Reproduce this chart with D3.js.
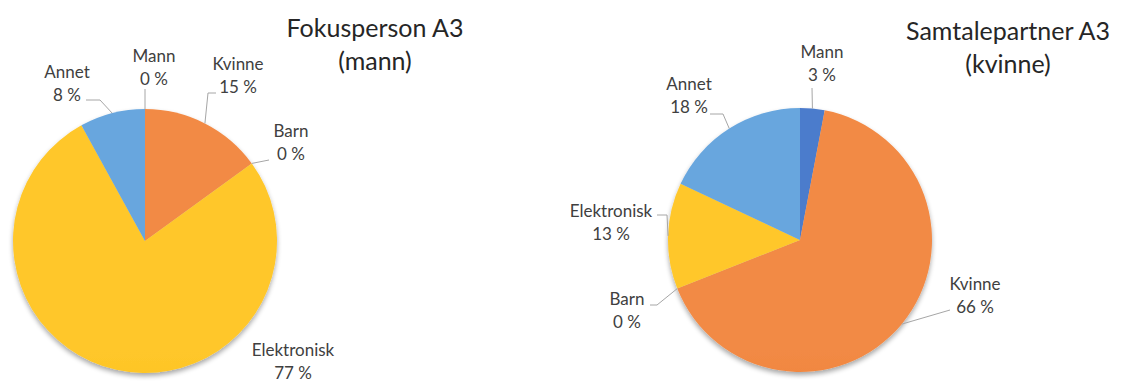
<!DOCTYPE html>
<html>
<head>
<meta charset="utf-8">
<script src="https://cdn.jsdelivr.net/npm/d3@7"></script>
<style>
  html, body { margin: 0; padding: 0; background: #ffffff; }
  svg { display: block; }
  text { font-family: Lato, "Open Sans", sans-serif; }
</style>
</head>
<body>
<svg id="chart" width="1121" height="383"></svg>
<script>
// Categories shared by both pies (clockwise from 12 o'clock)
const categories = ["Mann", "Kvinne", "Barn", "Elektronisk", "Annet"];

// Share of conversation partners, in percent
const fokusValues = [0, 15, 0, 77, 8];
const samtaleValues = [3, 66, 0, 13, 18];

const fokusTitle = ["Fokusperson A3", "(mann)"];
const samtaleTitle = ["Samtalepartner A3", "(kvinne)"];

// Office-style palette: [top tint, bottom shade]
const palette = {
  "Mann":        ["#4C7BCC", "#3A63B2"],
  "Kvinne":      ["#F28A45", "#E76D1B"],
  "Barn":        ["#B5B5B5", "#9A9A9A"],
  "Elektronisk": ["#FFC72A", "#F0B400"],
  "Annet":       ["#68A6DE", "#4787C8"]
};

const svg = d3.select("#chart");
const defs = svg.append("defs");

// soft shadow under each pie
const shadow = defs.append("filter").attr("id", "pieShadow")
  .attr("x", "-10%").attr("y", "-10%").attr("width", "120%").attr("height", "125%");
shadow.append("feGaussianBlur").attr("in", "SourceAlpha").attr("stdDeviation", 2.5).attr("result", "b");
shadow.append("feOffset").attr("in", "b").attr("dx", 0).attr("dy", 3).attr("result", "o");
shadow.append("feComponentTransfer").attr("in", "o").attr("result", "s")
  .append("feFuncA").attr("type", "linear").attr("slope", 0.35);
const merge = shadow.append("feMerge");
merge.append("feMergeNode").attr("in", "s");
merge.append("feMergeNode").attr("in", "SourceGraphic");

const R = 132;

function drawPie(opts) {
  const { id, cx, cy, values, title, titleX, titleY, layout } = opts;
  const data = categories.map((c, i) => ({ cat: c, value: values[i] }));

  // vertical gradients spanning the pie
  categories.forEach(c => {
    const g = defs.append("linearGradient")
      .attr("id", `${id}-${c}`)
      .attr("gradientUnits", "userSpaceOnUse")
      .attr("x1", cx).attr("x2", cx)
      .attr("y1", cy - R).attr("y2", cy + R);
    g.append("stop").attr("offset", "0%").attr("stop-color", palette[c][0]);
    g.append("stop").attr("offset", "100%").attr("stop-color", palette[c][1]);
  });

  const pie = d3.pie().sort(null).value(d => d.value);
  const arcs = pie(data);
  const arc = d3.arc().innerRadius(0).outerRadius(R);
  const edge = d3.arc().innerRadius(R).outerRadius(R);

  const g = svg.append("g").attr("transform", `translate(${cx},${cy})`);
  g.append("g").attr("filter", "url(#pieShadow)")
    .selectAll("path")
    .data(arcs.filter(a => a.data.value > 0))
    .join("path")
    .attr("d", arc)
    .attr("fill", d => `url(#${id}-${d.data.cat})`);

  // leader lines
  arcs.forEach((a, i) => {
    const L = layout[i];
    if (!L.start) return;
    const [ex, ey] = edge.centroid(a);
    const pts = [L.start];
    if (L.elbow) pts.push(L.elbow);
    pts.push([cx + ex, cy + ey]);
    svg.append("path")
      .attr("d", d3.line()(pts))
      .attr("fill", "none")
      .attr("stroke", "#a6a6a6")
      .attr("stroke-width", 1);
  });

  // data labels: category name + percent
  arcs.forEach((a, i) => {
    const L = layout[i];
    const t = svg.append("text")
      .attr("text-anchor", "middle")
      .attr("font-size", 17)
      .attr("fill", "#404040");
    t.append("tspan").attr("x", L.x).attr("y", L.y).text(a.data.cat);
    t.append("tspan").attr("x", L.x).attr("y", L.y + 23).text(`${a.data.value} %`);
  });

  // chart title
  const tt = svg.append("text")
    .attr("text-anchor", "middle")
    .attr("font-size", 25)
    .attr("fill", "#262626");
  tt.append("tspan").attr("x", titleX).attr("y", titleY).text(title[0]);
  tt.append("tspan").attr("x", titleX).attr("y", titleY + 33).text(title[1]);
}

drawPie({
  id: "fokus", cx: 145, cy: 241, values: fokusValues, title: fokusTitle,
  titleX: 375, titleY: 37,
  layout: [
    { x: 154, y: 62,  start: [145, 89] },
    { x: 238, y: 70,  start: [216, 93], elbow: [208, 93] },
    { x: 291, y: 137, start: [269, 160] },
    { x: 293, y: 356 },
    { x: 67,  y: 78,  start: [86, 100], elbow: [100, 100] }
  ]
});

drawPie({
  id: "samtale", cx: 800, cy: 240, values: samtaleValues, title: samtaleTitle,
  titleX: 1008, titleY: 40,
  layout: [
    { x: 822, y: 58,  start: [812, 88] },
    { x: 975, y: 290, start: [950, 310] },
    { x: 627, y: 305, start: [650, 305], elbow: [657, 305] },
    { x: 611, y: 217, start: [657, 215], elbow: [667, 215] },
    { x: 689, y: 90,  start: [710, 114], elbow: [723, 114] }
  ]
});
</script>
</body>
</html>
